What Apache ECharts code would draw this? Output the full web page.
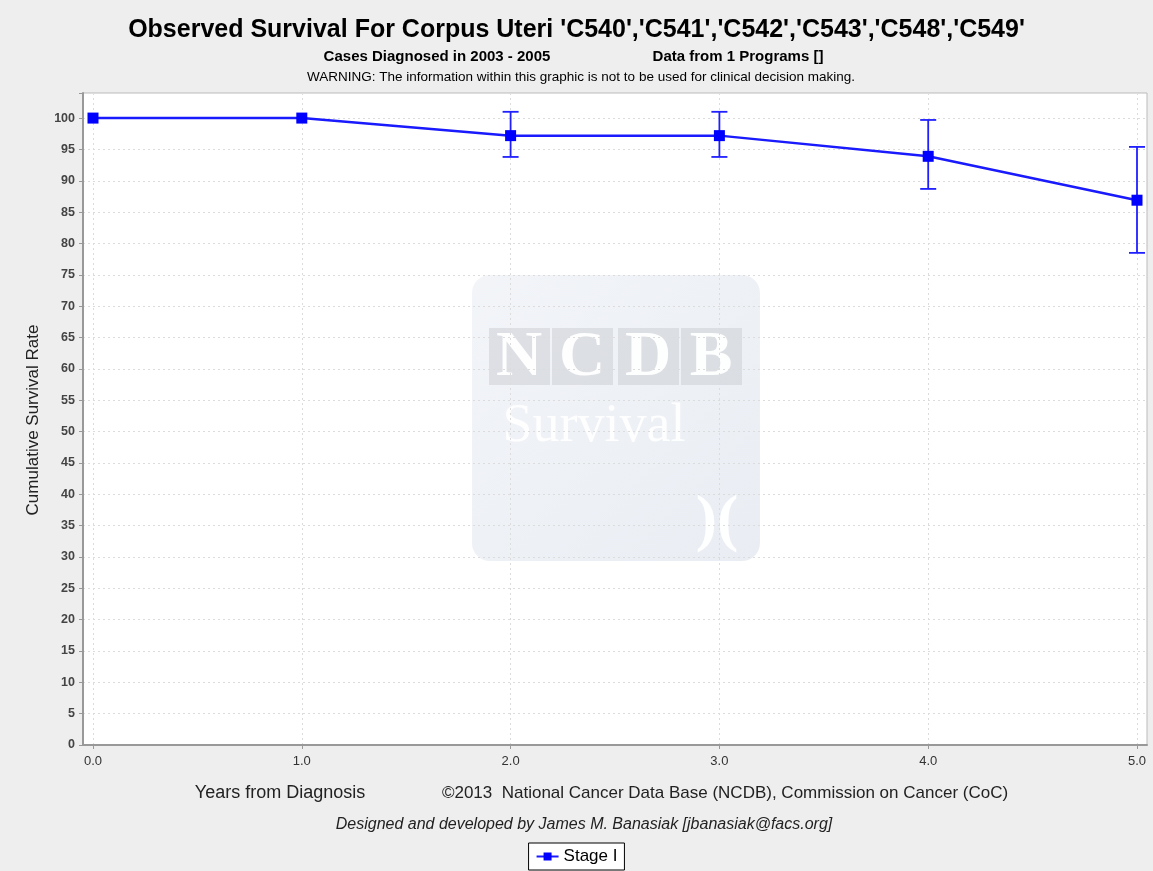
<!DOCTYPE html>
<html>
<head>
<meta charset="utf-8">
<script src="https://cdn.jsdelivr.net/npm/echarts@6/dist/echarts.min.js"></script>
<style>
html, body { margin: 0; padding: 0; background: #eeeeee; }
#main_chart { width: 1153px; height: 871px; }
</style>
</head>
<body>
<div id="main_chart"></div>
<script>
// 数据
var years = [0, 1, 2, 3, 4, 5];
var survival = [100, 100, 97.2, 97.2, 93.9, 86.9];
var upperCI = [null, null, 101, 101, 99.7, 95.4];
var lowerCI = [null, null, 93.8, 93.8, 88.7, 78.5];
var xTickLabels = ['0.0', '1.0', '2.0', '3.0', '4.0', '5.0'];

const myChart = echarts.init(document.getElementById('main_chart'));

var lineData = years.map(function (y, i) { return [y, survival[i]]; });
var barData = [];
years.forEach(function (y, i) {
    if (upperCI[i] != null) barData.push([y, lowerCI[i], upperCI[i]]);
});

var font = 'Arial, "Liberation Sans", sans-serif';
var serif = '"Liberation Serif", "DejaVu Serif", serif';
var dotted = { color: '#dcdcdc', type: [2, 3] };

// 水印里的方块字母
function letterBox(ch, x) {
    return [
        { type: 'rect', shape: { x: x, y: 53, width: 61, height: 57 }, style: { fill: 'rgba(190,192,198,0.38)' } },
        { type: 'text', style: { text: ch, x: x + 30, y: 83, align: 'center', verticalAlign: 'middle',
            font: 'bold 64px ' + serif, fill: 'rgba(255,255,255,0.95)' } }
    ];
}

var option = {
    backgroundColor: '#eeeeee',
    animation: false,
    title: [
        {
            text: "Observed Survival For Corpus Uteri 'C540','C541','C542','C543','C548','C549'",
            left: 'center', top: 13,
            textStyle: { fontFamily: font, fontWeight: 'bold', fontSize: 25, color: '#000' }
        }
    ],
    // grid 0: 数据区 (0.0 - 5.0), grid 1: 外框和y轴
    grid: [
        { left: 93, right: 16, top: 93, bottom: 126 },
        { left: 83, right: 6, top: 93, bottom: 126 }
    ],
    xAxis: [
        {
            gridIndex: 0, type: 'value', min: 0, max: 5, interval: 1,
            axisLine: { show: false },
            axisTick: { show: true, length: 4, lineStyle: { color: '#999' } },
            axisLabel: {
                margin: 10, fontFamily: font, fontSize: 13, color: '#333',
                formatter: function (v) { return xTickLabels[v]; }
            },
            splitLine: { show: true, lineStyle: dotted }
        },
        {
            gridIndex: 1, type: 'value', min: 0, max: 1,
            axisLine: { show: true, onZero: false, lineStyle: { color: '#999', width: 2 } },
            axisTick: { show: false }, axisLabel: { show: false }, splitLine: { show: false }
        }
    ],
    yAxis: [
        {
            gridIndex: 0, type: 'value', min: 0, max: 104, interval: 5,
            axisLine: { show: false }, axisTick: { show: false }, axisLabel: { show: false },
            splitLine: { show: false }
        },
        {
            gridIndex: 1, type: 'value', min: 0, max: 104, interval: 5,
            axisLine: { show: true, lineStyle: { color: '#999', width: 2 } },
            axisTick: { show: true, length: 4, lineStyle: { color: '#999' } },
            axisLabel: {
                margin: 8, fontFamily: font, fontSize: 12.5, fontWeight: 'bold', color: '#444',
                formatter: function (v) { return v % 5 === 0 ? v : ''; }
            },
            splitLine: { show: true, lineStyle: dotted }
        }
    ],
    legend: {
        data: ['Stage I'],
        bottom: 1, left: 'center',
        backgroundColor: '#fff', borderColor: '#000', borderWidth: 1,
        padding: [5, 7, 5, 7],
        itemWidth: 22, itemHeight: 10, itemGap: 4,
        textStyle: { fontFamily: font, fontSize: 17, color: '#000' }
    },
    graphic: [
        // 绘图区背景和边框
        {
            type: 'rect', z: -10,
            shape: { x: 83, y: 93, width: 1064, height: 652 },
            style: { fill: '#fff', stroke: '#bbb', lineWidth: 1 }
        },
        // 水印
        {
            type: 'group', z: -9, x: 472, y: 275,
            children: [
                { type: 'rect', shape: { x: 0, y: 0, width: 288, height: 286, r: 18 },
                  style: { fill: new echarts.graphic.LinearGradient(0, 0, 1, 1, [
                      { offset: 0, color: 'rgba(238,241,246,0.75)' },
                      { offset: 1, color: 'rgba(226,231,239,0.75)' }]) } }
            ].concat(letterBox('N', 17), letterBox('C', 80), letterBox('D', 146), letterBox('B', 209), [
                { type: 'text', style: { text: 'Survival', x: 122, y: 152, align: 'center', verticalAlign: 'middle',
                    font: '54px ' + serif, fill: 'rgba(255,255,255,0.9)' } },
                { type: 'text', style: { text: ')(', x: 245, y: 247, align: 'center', verticalAlign: 'middle',
                    font: 'bold 64px ' + serif, fill: 'rgba(255,255,255,0.95)' } }
            ])
        },
        // 副标题
        {
            type: 'text', x: 437, y: 57,
            style: { text: 'Cases Diagnosed in 2003 - 2005', font: 'bold 15px ' + font, fill: '#000',
                align: 'center', verticalAlign: 'middle' }
        },
        {
            type: 'text', x: 738, y: 57,
            style: { text: 'Data from 1 Programs []', font: 'bold 15px ' + font, fill: '#000',
                align: 'center', verticalAlign: 'middle' }
        },
        {
            type: 'text', x: 581, y: 77,
            style: { text: 'WARNING: The information within this graphic is not to be used for clinical decision making.',
                font: '13.5px ' + font, fill: '#000', align: 'center', verticalAlign: 'middle' }
        },
        // 坐标轴名称和说明文字
        {
            type: 'text', x: 33, y: 420, rotation: Math.PI / 2,
            style: { text: 'Cumulative Survival Rate', font: '17px ' + font, fill: '#222',
                align: 'center', verticalAlign: 'middle' }
        },
        {
            type: 'text', x: 280, y: 793,
            style: { text: 'Years from Diagnosis', font: '18px ' + font, fill: '#222',
                align: 'center', verticalAlign: 'middle' }
        },
        {
            type: 'text', x: 725, y: 793,
            style: { text: '\u00a92013  National Cancer Data Base (NCDB), Commission on Cancer (CoC)', font: '17px ' + font, fill: '#222',
                align: 'center', verticalAlign: 'middle' }
        },
        {
            type: 'text', x: 584, y: 825,
            style: { text: 'Designed and developed by James M. Banasiak [jbanasiak@facs.org]', font: 'italic 16px ' + font, fill: '#222',
                align: 'center', verticalAlign: 'middle' }
        }
    ],
    series: [
        {
            name: 'Stage I',
            type: 'line',
            xAxisIndex: 0, yAxisIndex: 0,
            data: lineData,
            symbol: 'rect', symbolSize: 11,
            lineStyle: { color: '#1a1aff', width: 2.5 },
            itemStyle: { color: '#0000ff' },
            z: 3
        },
        {
            name: 'CI',
            type: 'custom',
            xAxisIndex: 0, yAxisIndex: 0,
            data: barData,
            z: 2,
            renderItem: function (params, api) {
                var x = api.value(0);
                var lo = api.coord([x, api.value(1)]);
                var hi = api.coord([x, api.value(2)]);
                var w = 8;
                var st = { stroke: '#2020ff', lineWidth: 1.8 };
                return {
                    type: 'group',
                    children: [
                        { type: 'line', shape: { x1: lo[0], y1: lo[1], x2: hi[0], y2: hi[1] }, style: st },
                        { type: 'line', shape: { x1: lo[0] - w, y1: lo[1], x2: lo[0] + w, y2: lo[1] }, style: st },
                        { type: 'line', shape: { x1: hi[0] - w, y1: hi[1], x2: hi[0] + w, y2: hi[1] }, style: st }
                    ]
                };
            }
        }
    ]
};

myChart.setOption(option);
window.onresize = function () {
    myChart.resize();
};
</script>
</body>
</html>
